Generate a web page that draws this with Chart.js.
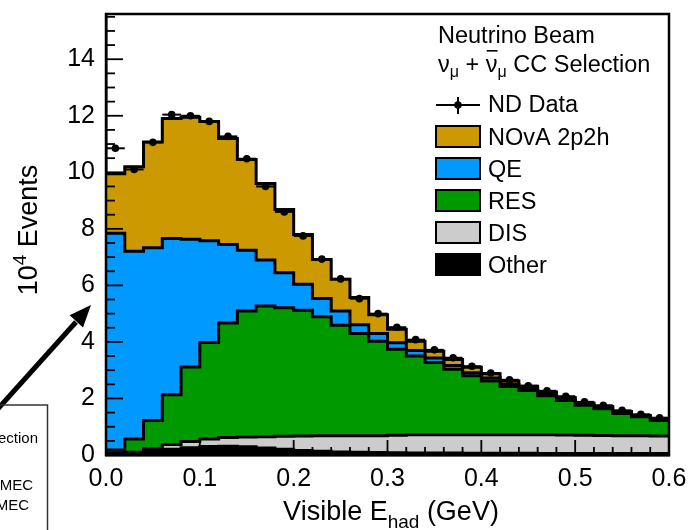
<!DOCTYPE html>
<html>
<head>
<meta charset="utf-8">
<script src="https://cdn.jsdelivr.net/npm/chart.js@4.4.1/dist/chart.umd.min.js"></script>
<style>
  html, body { margin: 0; padding: 0; background: #fff; }
</style>
</head>
<body>
<canvas id="hist" width="689" height="530"></canvas>
<script>
// 30 bins of 0.02 GeV, values in 10^4 events
const binWidth = 0.02;
const otherEvents = [0.03, 0.05, 0.12, 0.20, 0.26, 0.30, 0.31, 0.29, 0.25, 0.20, 0.16, 0.13, 0.11, 0.10, 0.09, 0.08, 0.07, 0.07, 0.07, 0.06, 0.06, 0.06, 0.06, 0.05, 0.05, 0.05, 0.05, 0.05, 0.05, 0.05];
const disEvents = [0.04, 0.05, 0.10, 0.17, 0.22, 0.27, 0.31, 0.35, 0.40, 0.46, 0.51, 0.55, 0.57, 0.58, 0.59, 0.62, 0.65, 0.65, 0.65, 0.66, 0.66, 0.66, 0.66, 0.67, 0.66, 0.65, 0.64, 0.63, 0.63, 0.62];
const resEvents = [0.11, 0.47, 1.00, 1.76, 2.63, 3.41, 4.05, 4.45, 4.62, 4.55, 4.45, 4.21, 3.91, 3.62, 3.34, 3.04, 2.78, 2.55, 2.31, 2.08, 1.90, 1.70, 1.56, 1.38, 1.22, 1.06, 0.95, 0.79, 0.67, 0.55];
const qeEvents = [7.66, 6.64, 6.11, 5.53, 4.52, 3.60, 2.78, 2.15, 1.63, 1.24, 0.92, 0.65, 0.50, 0.31, 0.28, 0.23, 0.20, 0.16, 0.14, 0.11, 0.10, 0.08, 0.07, 0.07, 0.05, 0.04, 0.05, 0.04, 0.03, 0.03];
const mecEvents = [2.11, 2.99, 3.74, 4.24, 4.32, 4.22, 3.75, 3.21, 2.70, 2.23, 1.76, 1.38, 1.13, 0.96, 0.66, 0.48, 0.32, 0.24, 0.21, 0.19, 0.15, 0.12, 0.08, 0.06, 0.05, 0.04, 0.03, 0.03, 0.02, 0.02];
const ndData = [10.85, 10.10, 11.06, 12.04, 12.00, 11.80, 11.27, 10.48, 9.50, 8.60, 7.75, 6.93, 6.23, 5.53, 5.00, 4.52, 4.08, 3.72, 3.44, 3.14, 2.90, 2.66, 2.45, 2.27, 2.08, 1.88, 1.76, 1.58, 1.44, 1.32];

const yTickValues = [0, 2, 4, 6, 8, 10, 12, 14];
const xTickValues = [0, 0.1, 0.2, 0.3, 0.4, 0.5, 0.6];

const colors = { mec: '#cc9900', qe: '#0099ff', res: '#009900', dis: '#cccccc', other: '#000000' };
const font = '"Liberation Sans", Arial, Helvetica, sans-serif';
const ctxHist = document.getElementById('hist').getContext('2d');

function histSteps(values) {
  const pts = values.map((v, i) => ({ x: i * binWidth, y: v }));
  pts.push({ x: values.length * binWidth, y: values[values.length - 1] });
  return pts;
}

function layer(label, values, color, fill) {
  return {
    label,
    data: histSteps(values),
    stack: 'mc',
    backgroundColor: color,
    borderColor: '#000',
    borderWidth: 3,
    borderJoinStyle: 'miter',
    stepped: true,
    fill,
    pointRadius: 0,
    pointHoverRadius: 0
  };
}

const legendBoxes = [
  ['NOvA 2p2h', colors.mec],
  ['QE', colors.qe],
  ['RES', colors.res],
  ['DIS', colors.dis],
  ['Other', colors.other]
];

const overlay = {
  id: 'overlay',
  afterDatasetsDraw(chart) {
    const { ctx, chartArea: a, scales: { x, y } } = chart;
    ctx.save();
    ctx.strokeStyle = '#000';

    // data points: horizontal bars spanning the bin
    ctx.lineWidth = 2;
    ndData.forEach((v, i) => {
      const py = y.getPixelForValue(v);
      ctx.beginPath();
      ctx.moveTo(x.getPixelForValue(i * binWidth), py);
      ctx.lineTo(x.getPixelForValue((i + 1) * binWidth), py);
      ctx.stroke();
    });

    // inward ticks like ROOT
    ctx.lineWidth = 1.8;
    for (let k = 0; k * 0.5 <= y.max; k++) {
      const py = y.getPixelForValue(k * 0.5);
      const len = k % 4 === 0 ? 17 : 9;
      ctx.beginPath();
      ctx.moveTo(a.left, py);
      ctx.lineTo(a.left + len, py);
      ctx.stroke();
    }
    for (let k = 0; k <= ndData.length; k++) {
      const px = x.getPixelForValue(k * binWidth);
      const len = k % 5 === 0 ? 15 : 8;
      ctx.beginPath();
      ctx.moveTo(px, a.bottom);
      ctx.lineTo(px, a.bottom - len);
      ctx.stroke();
    }

    // frame
    ctx.lineWidth = 2.5;
    ctx.strokeRect(a.left, a.top, a.right - a.left, a.bottom - a.top);
    ctx.restore();
  },
  afterDraw(chart) {
    const { ctx } = chart;
    ctx.save();
    ctx.fillStyle = '#000';
    ctx.strokeStyle = '#000';
    ctx.textBaseline = 'alphabetic';

    // legend
    const big = `23.5px ${font}`;
    const small = `16px ${font}`;
    ctx.font = big;
    ctx.fillText('Neutrino Beam', 438, 43);
    let lx = 438;
    const nu = bar => {
      ctx.font = big;
      const w = ctx.measureText('ν').width;
      ctx.fillText('ν', lx, 72);
      if (bar) ctx.fillRect(lx + 1, 50, w - 1, 1.6);
      lx += w;
      ctx.font = small;
      ctx.fillText('μ', lx, 77);
      lx += ctx.measureText('μ').width;
    };
    nu(false);
    ctx.font = big;
    ctx.fillText(' + ', lx, 72);
    lx += ctx.measureText(' + ').width;
    nu(true);
    ctx.font = big;
    ctx.fillText(' CC Selection', lx, 72);

    ctx.lineWidth = 2;
    ctx.beginPath();
    ctx.moveTo(436, 105); ctx.lineTo(480, 105);
    ctx.moveTo(458, 97); ctx.lineTo(458, 114);
    ctx.stroke();
    ctx.beginPath();
    ctx.arc(458, 105, 3.8, 0, Math.PI * 2);
    ctx.fill();
    ctx.fillText('ND Data', 488, 112);

    legendBoxes.forEach(([label, color], i) => {
      const top = 126 + i * 32;
      ctx.fillStyle = color;
      ctx.fillRect(436, top, 44, 21);
      ctx.strokeRect(436, top, 44, 21);
      ctx.fillStyle = '#000';
      ctx.fillText(label, 488, top + 19);
    });

    // x axis title with subscript
    const tFont = `27px ${font}`;
    const sFont = `19px ${font}`;
    ctx.font = tFont;
    const w1 = ctx.measureText('Visible E').width;
    const w3 = ctx.measureText(' (GeV)').width;
    ctx.font = sFont;
    const w2 = ctx.measureText('had').width;
    let tx = 391 - (w1 + w2 + w3) / 2;
    ctx.font = tFont;
    ctx.fillText('Visible E', tx, 520);
    tx += w1;
    ctx.font = sFont;
    ctx.fillText('had', tx, 528);
    tx += w2;
    ctx.font = tFont;
    ctx.fillText(' (GeV)', tx, 520);

    // y axis title, rotated
    ctx.save();
    ctx.translate(37, 230);
    ctx.rotate(-Math.PI / 2);
    ctx.font = tFont;
    const a1 = ctx.measureText('10').width;
    const a3 = ctx.measureText(' Events').width;
    ctx.font = sFont;
    const a2 = ctx.measureText('4').width;
    let ty = -(a1 + a2 + a3) / 2;
    ctx.font = tFont;
    ctx.fillText('10', ty, 0);
    ty += a1;
    ctx.font = sFont;
    ctx.fillText('4', ty, -11);
    ty += a2;
    ctx.font = tFont;
    ctx.fillText(' Events', ty, 0);
    ctx.restore();

    // leftover pieces of a neighbouring figure: arrow and legend box
    ctx.lineWidth = 5;
    ctx.beginPath();
    ctx.moveTo(-5, 412);
    ctx.lineTo(76, 322);
    ctx.stroke();
    const tip = [91, 305];
    const ang = Math.atan2(305 - 412, 91 + 5);
    ctx.beginPath();
    ctx.moveTo(tip[0], tip[1]);
    ctx.lineTo(tip[0] - 22 * Math.cos(ang) + 9 * Math.sin(ang), tip[1] - 22 * Math.sin(ang) - 9 * Math.cos(ang));
    ctx.lineTo(tip[0] - 22 * Math.cos(ang) - 9 * Math.sin(ang), tip[1] - 22 * Math.sin(ang) + 9 * Math.cos(ang));
    ctx.closePath();
    ctx.fill();

    ctx.lineWidth = 1.5;
    ctx.strokeStyle = '#333';
    ctx.strokeRect(-5, 405, 52.5, 140);
    ctx.font = `15px ${font}`;
    ctx.textAlign = 'right';
    ctx.fillText('Selection', 38, 443);
    ctx.fillText('2p2h MEC', 33, 490);
    ctx.fillText('2p2h MEC', 29, 510);
    ctx.restore();
  }
};

new Chart(ctxHist, {
  type: 'line',
  data: {
    datasets: [
      layer('Other', otherEvents, colors.other, 'origin'),
      layer('DIS', disEvents, colors.dis, '-1'),
      layer('RES', resEvents, colors.res, '-1'),
      layer('QE', qeEvents, colors.qe, '-1'),
      layer('NOvA 2p2h', mecEvents, colors.mec, '-1'),
      {
        label: 'ND Data',
        data: ndData.map((v, i) => ({ x: (i + 0.5) * binWidth, y: v })),
        stack: 'data',
        order: -1,
        showLine: false,
        fill: false,
        pointRadius: 3.8,
        pointBackgroundColor: '#000',
        pointBorderWidth: 0
      }
    ]
  },
  options: {
    responsive: false,
    devicePixelRatio: 1,
    animation: false,
    layout: {
      padding: { top: 14, right: 20, left: 0, bottom: 0 }
    },
    plugins: {
      legend: { display: false },
      tooltip: { enabled: false }
    },
    scales: {
      x: {
        type: 'linear',
        min: 0,
        max: 0.6,
        grid: { display: false, drawTicks: false },
        border: { color: '#000', width: 2.5 },
        afterBuildTicks: s => { s.ticks = xTickValues.map(value => ({ value })) },
        afterFit: s => { s.height = 75; s.paddingLeft = 0; s.paddingRight = 0 },
        ticks: {
          color: '#000',
          padding: 9,
          maxRotation: 0,
          autoSkip: false,
          font: { family: font, size: 25 },
          callback: value => value.toFixed(1)
        }
      },
      y: {
        stacked: true,
        min: 0,
        max: 15.6,
        grid: { display: false, drawTicks: false },
        border: { color: '#000', width: 2.5 },
        afterBuildTicks: s => { s.ticks = yTickValues.map(value => ({ value })) },
        afterFit: s => { s.width = 106; s.paddingTop = 0; s.paddingBottom = 0 },
        ticks: {
          color: '#000',
          padding: 11,
          font: { family: font, size: 25 }
        }
      }
    }
  },
  plugins: [overlay]
});
</script>
</body>
</html>
